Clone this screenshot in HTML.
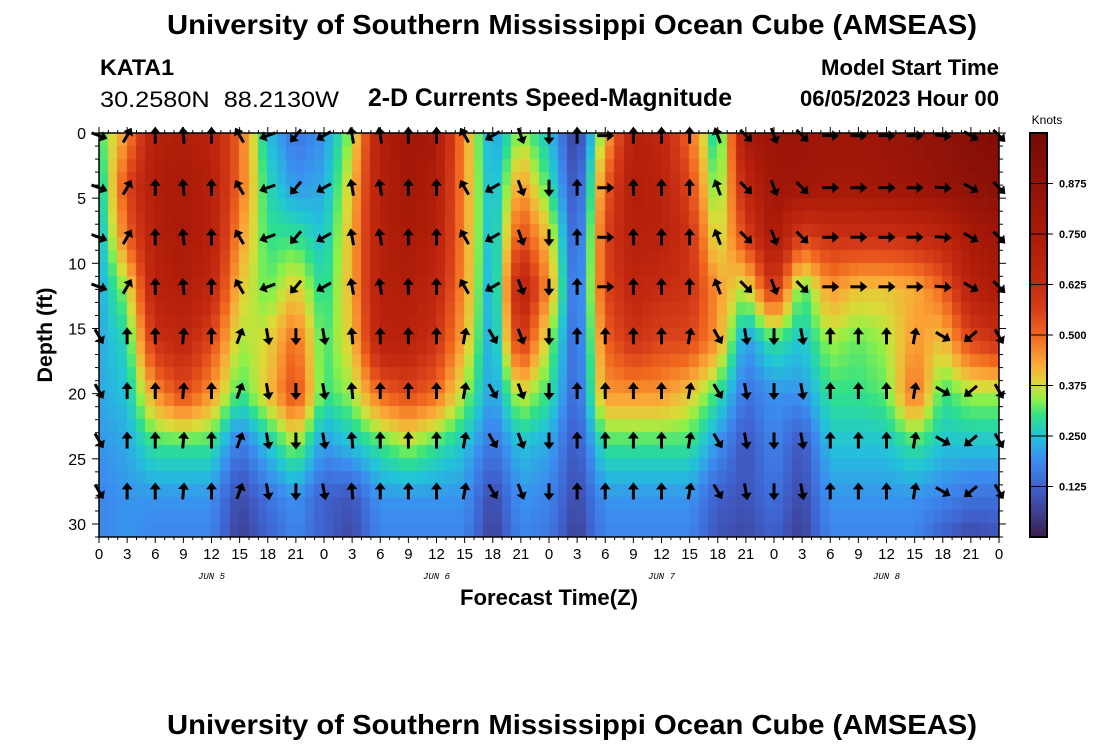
<!DOCTYPE html>
<html><head><meta charset="utf-8"><style>
body{margin:0;background:#fff;width:1100px;height:750px;overflow:hidden;position:relative;font-family:"Liberation Sans",sans-serif}
#hm{position:absolute;left:99px;top:133px}
#ov{position:absolute;left:0;top:0}
</style></head><body>
<canvas id="hm" width="900" height="404"></canvas>
<svg id="ov" width="1100" height="750" xmlns="http://www.w3.org/2000/svg" font-family="Liberation Sans, sans-serif">
<text x="572" y="34" text-anchor="middle" font-size="28" font-weight="bold" textLength="810" lengthAdjust="spacingAndGlyphs">University of Southern Mississippi Ocean Cube (AMSEAS)</text>
<text x="100" y="75" font-size="22" font-weight="bold" textLength="74" lengthAdjust="spacingAndGlyphs">KATA1</text>
<text x="100" y="107" font-size="22" textLength="239" lengthAdjust="spacingAndGlyphs">30.2580N&#160;&#160;88.2130W</text>
<text x="550" y="106" text-anchor="middle" font-size="25" font-weight="bold" textLength="364" lengthAdjust="spacingAndGlyphs">2-D Currents Speed-Magnitude</text>
<text x="999" y="75" text-anchor="end" font-size="22" font-weight="bold" textLength="178" lengthAdjust="spacingAndGlyphs">Model Start Time</text>
<text x="999" y="106" text-anchor="end" font-size="22" font-weight="bold" textLength="199" lengthAdjust="spacingAndGlyphs">06/05/2023 Hour 00</text>
<text x="572" y="734" text-anchor="middle" font-size="28" font-weight="bold" textLength="810" lengthAdjust="spacingAndGlyphs">University of Southern Mississippi Ocean Cube (AMSEAS)</text>
<text x="549" y="605" text-anchor="middle" font-size="22" font-weight="bold" textLength="178" lengthAdjust="spacingAndGlyphs">Forecast Time(Z)</text>
<text transform="translate(52,335) rotate(-90)" text-anchor="middle" font-size="21" font-weight="bold" textLength="95" lengthAdjust="spacingAndGlyphs">Depth (ft)</text>
<text x="1047" y="124" text-anchor="middle" font-size="12">Knots</text>
<g id="arrows"></g>
<g id="axes"></g>
<g id="cbar"></g>
</svg>
<script>
const hours=[0,3,6,9,12,15,18,21,24,27,30,33,36,39,42,45,48,51,54,57,60,63,66,69,72,75,78,81,84,87,90,93,96];
const depthKeys=[0,4,8,12,16,20,24,28,31];
const speed=[
[.3,.25,.22,.22,.22,.22,.2,.18,.18],
[.45,.55,.5,.35,.28,.25,.22,.2,.2],
[.7,.72,.7,.68,.6,.45,.3,.2,.18],
[.72,.75,.75,.72,.65,.55,.3,.2,.18],
[.68,.7,.7,.65,.55,.45,.3,.2,.18],
[.5,.5,.45,.4,.35,.3,.15,.08,.06],
[.25,.28,.3,.32,.38,.4,.25,.15,.12],
[.15,.2,.3,.4,.5,.55,.35,.2,.18],
[.2,.22,.25,.28,.3,.3,.2,.12,.12],
[.35,.4,.42,.42,.4,.35,.25,.1,.08],
[.7,.7,.7,.7,.68,.5,.3,.2,.18],
[.8,.78,.75,.72,.68,.55,.35,.2,.18],
[.75,.72,.7,.65,.6,.5,.3,.2,.18],
[.45,.45,.45,.45,.42,.35,.25,.2,.18],
[.2,.22,.22,.2,.2,.2,.15,.08,.06],
[.35,.45,.55,.7,.6,.38,.25,.2,.18],
[.25,.3,.4,.45,.35,.3,.22,.18,.16],
[.05,.08,.1,.12,.12,.12,.1,.08,.06],
[.4,.5,.55,.55,.5,.45,.3,.2,.18],
[.7,.72,.7,.65,.6,.45,.3,.2,.18],
[.65,.68,.68,.62,.55,.45,.3,.2,.18],
[.5,.55,.6,.6,.55,.4,.3,.2,.18],
[.25,.3,.35,.45,.45,.3,.2,.12,.1],
[.75,.65,.55,.35,.2,.15,.1,.1,.08],
[.82,.8,.75,.6,.3,.2,.18,.15,.12],
[.82,.8,.55,.3,.25,.2,.1,.08,.06],
[.8,.78,.6,.45,.35,.3,.25,.2,.18],
[.8,.78,.6,.4,.32,.3,.25,.2,.18],
[.82,.8,.6,.4,.35,.32,.25,.2,.18],
[.85,.82,.62,.42,.45,.5,.3,.2,.18],
[.88,.85,.65,.5,.4,.3,.25,.18,.12],
[.92,.88,.75,.68,.55,.35,.25,.15,.08],
[.95,.9,.8,.75,.6,.35,.25,.15,.1]];
const arrowDepths=[0.2,4.2,8,11.8,15.6,19.8,23.6,27.5];
const angUpper=[110,30,0,-5,0,-30,-110,-140,-120,-10,-10,0,0,-30,-120,160,180,0,90,0,0,0,-20,135,160,135,90,90,90,90,95,120,135];
const angLower=[150,0,0,5,0,20,170,180,170,-5,0,0,0,10,150,160,180,0,0,0,0,10,150,170,180,170,0,0,0,10,120,-130,150];
const xTickLabels=["0","3","6","9","12","15","18","21"];
const yTicks=[0,5,10,15,20,25,30];
const cbTicks=[0.125,0.25,0.375,0.5,0.625,0.75,0.875];
const dayLabels=["JUN 5","JUN 6","JUN 7","JUN 8"];

const X0=99,X1=999,Y0=133,Y1=537,DMAX=31,HMAX=96;
const xs=h=>X0+(h/HMAX)*(X1-X0);
const ys=d=>Y0+(d/DMAX)*(Y1-Y0);
const stops=[[0,[58,31,74]],[0.06,[63,61,144]],[0.125,[63,99,208]],[0.19,[60,140,240]],[0.25,[34,196,216]],[0.3,[47,224,138]],[0.34,[142,240,72]],[0.375,[216,220,56]],[0.43,[251,168,56]],[0.5,[240,102,30]],[0.56,[216,64,26]],[0.625,[196,42,16]],[0.75,[170,26,8]],[0.875,[144,18,8]],[1,[114,10,4]]];
function cmap(v){v=Math.max(0,Math.min(1,v));for(let i=1;i<stops.length;i++){if(v<=stops[i][0]){const a=stops[i-1],b=stops[i],t=(v-a[0])/(b[0]-a[0]);return 'rgb('+a[1].map((c,k)=>Math.round(c+(b[1][k]-c)*t)).join(',')+')';}}return 'rgb(114,10,4)';}
function sample(h,d){let i=Math.min(hours.length-2,Math.floor(h/3));let th=(h-hours[i])/(hours[i+1]-hours[i]);th=Math.max(0,Math.min(1,th));
let j=0;while(j<depthKeys.length-2&&d>depthKeys[j+1])j++;let td=(d-depthKeys[j])/(depthKeys[j+1]-depthKeys[j]);td=Math.max(0,Math.min(1,td));
const a=speed[i][j]*(1-td)+speed[i][j+1]*td,b=speed[i+1][j]*(1-td)+speed[i+1][j+1]*td;return a*(1-th)+b*th;}
const ctx=document.getElementById('hm').getContext('2d');
for(let h=0;h<HMAX;h++){for(let d=0;d<DMAX;d++){ctx.fillStyle=cmap(sample(h+0.5,d+0.5));
const x=xs(h)-X0,y=ys(d)-Y0;ctx.fillRect(Math.floor(x),Math.floor(y),Math.ceil(xs(h+1)-xs(h))+1,Math.ceil(ys(d+1)-ys(d))+1);}}
const NS='http://www.w3.org/2000/svg';
function mk(tag,attrs,parent){const e=document.createElementNS(NS,tag);for(const k in attrs)e.setAttribute(k,attrs[k]);parent.appendChild(e);return e;}
const ag=document.getElementById('arrows');
hours.forEach((h,i)=>{arrowDepths.forEach((d,r)=>{const ang=r<4?angUpper[i]:angLower[i];
const g=mk('g',{transform:'translate('+xs(h)+','+ys(d)+') rotate('+ang+')'},ag);


mk('line',{x1:0,y1:8,x2:0,y2:-3,stroke:'#000','stroke-width':3},g);
mk('polygon',{points:'0,-9 -5.5,-2 5.5,-2',fill:'#000'},g);});});
const ax=document.getElementById('axes');
mk('rect',{x:X0,y:Y0,width:X1-X0,height:Y1-Y0,fill:'none',stroke:'#000','stroke-width':1.5},ax);
for(let h=0;h<=HMAX;h++){const x=xs(h),maj=h%3===0,L=maj?6:3;
mk('line',{x1:x,y1:Y1,x2:x,y2:Y1+L,stroke:'#000','stroke-width':1},ax);
mk('line',{x1:x,y1:Y0,x2:x,y2:Y0-L,stroke:'#000','stroke-width':1},ax);
if(maj){const t=mk('text',{x:x,y:Y1+22,'text-anchor':'middle','font-size':15},ax);t.textContent=xTickLabels[(h/3)%8];

}}
dayLabels.forEach((s,k)=>{const t=mk('text',{x:xs(12+24*k),y:Y1+42,'text-anchor':'middle','font-size':9,'font-style':'italic','font-family':'Liberation Mono, monospace'},ax);t.textContent=s;

});
for(let d=0;d<=DMAX;d++){const y=ys(d),maj=d%5===0,L=maj?7:4;
mk('line',{x1:X0-L,y1:y,x2:X0,y2:y,stroke:'#000'},ax);
mk('line',{x1:X1,y1:y,x2:X1+L,y2:y,stroke:'#000'},ax);}
yTicks.forEach(d=>{const t=mk('text',{x:X0-13,y:ys(d)+6,'text-anchor':'end','font-size':16},ax);t.textContent=d;

});
const cb=document.getElementById('cbar');const CX=1030,CW=17;
for(let p=0;p<404;p++){mk('rect',{x:CX,y:Y1-p-1,width:CW,height:1.5,fill:cmap(p/404)},cb);}
mk('rect',{x:CX,y:Y0,width:CW,height:Y1-Y0,fill:'none',stroke:'#000','stroke-width':2},cb);
cbTicks.forEach(v=>{const y=Y1-v*(Y1-Y0);mk('line',{x1:CX,y1:y,x2:CX+CW+6,y2:y,stroke:'#000'},cb);
const t=mk('text',{x:CX+CW+12,y:y+4,'font-size':11,'font-weight':'bold'},cb);t.textContent=v.toFixed(3);

});
</script>
</body></html>
